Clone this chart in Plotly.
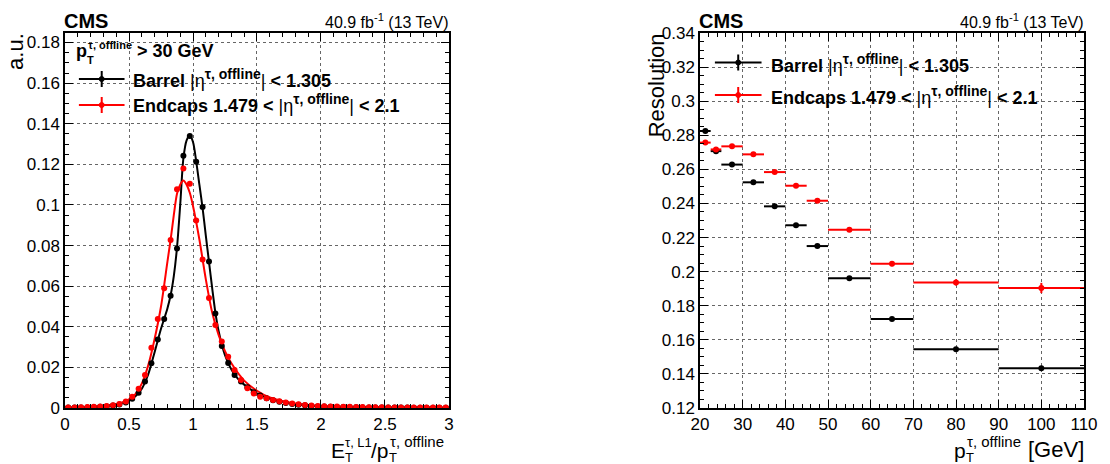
import numpy as np
import plotly.graph_objects as go

# ---------------- Left panel: response E_T^L1 / p_T^offline ----------------
resp_x = list(np.round(np.arange(0.025, 3.0, 0.05), 3))

barrel_resp = [0.0002, 0.0002, 0.0003, 0.0003, 0.0004, 0.0006, 0.0008, 0.0012, 0.0017, 0.0027,
               0.0045, 0.0075, 0.0130, 0.0220, 0.0338, 0.0438, 0.0553, 0.0785, 0.1243, 0.1340,
               0.1213, 0.0990, 0.0722, 0.0466, 0.0305, 0.0222, 0.0163, 0.0130, 0.0102, 0.0078,
               0.0062, 0.0048, 0.0038, 0.0031, 0.0025, 0.0020, 0.0016, 0.0013, 0.0010, 0.0008,
               0.0007, 0.0006, 0.0005, 0.0005, 0.0004, 0.0004, 0.0003, 0.0003, 0.0003, 0.0002,
               0.0002, 0.0002, 0.0002, 0.0002, 0.0001, 0.0001, 0.0001, 0.0001, 0.0001, 0.0001]

endcap_resp = [0.0003, 0.0003, 0.0004, 0.0005, 0.0006, 0.0008, 0.0010, 0.0014, 0.0020, 0.0032,
               0.0055, 0.0095, 0.0163, 0.0297, 0.0438, 0.0590, 0.0828, 0.1077, 0.1180, 0.1105,
               0.0923, 0.0731, 0.0542, 0.0409, 0.0327, 0.0253, 0.0187, 0.0138, 0.0097, 0.0072,
               0.0056, 0.0048, 0.0040, 0.0033, 0.0027, 0.0022, 0.0018, 0.0015, 0.0012, 0.0010,
               0.0009, 0.0008, 0.0007, 0.0006, 0.0006, 0.0005, 0.0005, 0.0004, 0.0004, 0.0004,
               0.0003, 0.0003, 0.0003, 0.0003, 0.0002, 0.0002, 0.0002, 0.0002, 0.0002, 0.0002]

barrel_fit_x = [0, 0.2, 0.4, 0.5, 0.55, 0.6, 0.65, 0.7, 0.75, 0.8, 0.825, 0.85, 0.875, 0.9,
                0.925, 0.95, 0.975, 1.0, 1.025, 1.05, 1.075, 1.1, 1.125, 1.15, 1.175, 1.2,
                1.25, 1.3, 1.35, 1.4, 1.5, 1.6, 1.8, 2.0, 2.5, 3.0]
barrel_fit_y = [0.0002, 0.0004, 0.0018, 0.0036, 0.0058, 0.0095, 0.0165, 0.0275, 0.0390, 0.0490,
                0.0555, 0.0650, 0.0790, 0.1000, 0.1230, 0.1318, 0.1342, 0.1310, 0.1215, 0.1100,
                0.0985, 0.0850, 0.0720, 0.0590, 0.0470, 0.0380, 0.0260, 0.0190, 0.0145, 0.0115,
                0.0072, 0.0046, 0.0020, 0.0009, 0.0003, 0.0001]

endcap_fit_x = [0, 0.2, 0.4, 0.5, 0.55, 0.6, 0.65, 0.7, 0.75, 0.8, 0.825, 0.85, 0.875, 0.9,
                0.925, 0.95, 0.975, 1.0, 1.05, 1.1, 1.15, 1.2, 1.25, 1.3, 1.4, 1.5, 1.6, 1.8,
                2.0, 2.5, 3.0]
endcap_fit_y = [0.0003, 0.0005, 0.0017, 0.0042, 0.0068, 0.0120, 0.0210, 0.0340, 0.0500, 0.0720,
                0.0828, 0.0950, 0.1055, 0.1100, 0.1120, 0.1100, 0.1060, 0.0995, 0.0830, 0.0635,
                0.0470, 0.0360, 0.0280, 0.0220, 0.0135, 0.0085, 0.0052, 0.0022, 0.0010, 0.0003,
                0.0002]

# ---------------- Right panel: resolution vs p_T ----------------
pt_lo = [20, 22.5, 25, 30, 35, 40, 45, 50, 60, 70, 90]
pt_hi = [22.5, 25, 30, 35, 40, 45, 50, 60, 70, 90, 110]
barrel_res = [0.2825, 0.2707, 0.2628, 0.2524, 0.2383, 0.2272, 0.2150, 0.1961, 0.1722, 0.1544, 0.1433]
endcap_res = [0.2757, 0.2717, 0.2735, 0.2688, 0.2584, 0.2504, 0.2416, 0.2246, 0.2047, 0.1937, 0.1904]
barrel_res_err = [0.0005, 0.0005, 0.0005, 0.0005, 0.0005, 0.0005, 0.0006, 0.0006, 0.0007, 0.0008, 0.0010]
endcap_res_err = [0.0008, 0.0008, 0.0008, 0.0008, 0.0008, 0.0009, 0.0009, 0.0010, 0.0015, 0.0018, 0.0030]

pt_mid = [(a + b) / 2 for a, b in zip(pt_lo, pt_hi)]
pt_half = [(b - a) / 2 for a, b in zip(pt_lo, pt_hi)]

BLACK = "#000000"
RED = "#ff0000"
FONT = "Liberation Sans, Arial, Helvetica, sans-serif"

fig = go.Figure()

# left: fits then points
fig.add_trace(go.Scatter(x=barrel_fit_x, y=barrel_fit_y, mode="lines",
                         line=dict(color=BLACK, width=2, shape="spline", smoothing=0.8),
                         xaxis="x", yaxis="y", showlegend=False, hoverinfo="skip"))
fig.add_trace(go.Scatter(x=endcap_fit_x, y=endcap_fit_y, mode="lines",
                         line=dict(color=RED, width=2, shape="spline", smoothing=0.8),
                         xaxis="x", yaxis="y", showlegend=False, hoverinfo="skip"))
fig.add_trace(go.Scatter(x=resp_x, y=barrel_resp, mode="markers",
                         marker=dict(color=BLACK, size=6),
                         xaxis="x", yaxis="y", showlegend=False))
fig.add_trace(go.Scatter(x=resp_x, y=endcap_resp, mode="markers",
                         marker=dict(color=RED, size=6),
                         xaxis="x", yaxis="y", showlegend=False))

# right: resolution points with bin-width bars
fig.add_trace(go.Scatter(x=pt_mid, y=barrel_res, mode="markers",
                         marker=dict(color=BLACK, size=6),
                         error_x=dict(type="data", array=pt_half, color=BLACK, thickness=2, width=0),
                         error_y=dict(type="data", array=barrel_res_err, color=BLACK, thickness=2, width=0),
                         xaxis="x2", yaxis="y2", showlegend=False))
fig.add_trace(go.Scatter(x=pt_mid, y=endcap_res, mode="markers",
                         marker=dict(color=RED, size=6),
                         error_x=dict(type="data", array=pt_half, color=RED, thickness=2, width=0),
                         error_y=dict(type="data", array=endcap_res_err, color=RED, thickness=2, width=0),
                         xaxis="x2", yaxis="y2", showlegend=False))

W, H = 1110, 464
ML, MR, MT, MB = 65, 18, 33, 56
PW, PH = W - ML - MR, H - MT - MB


def px(xp):
    return (xp - ML) / PW


def py(yp):
    return (H - MB - yp) / PH


axis_common = dict(
    showline=True, linecolor=BLACK, linewidth=1.5, mirror="allticks",
    ticks="inside", ticklen=8, tickwidth=1, tickcolor=BLACK,
    showgrid=True, gridcolor="#666666", griddash="dot", gridwidth=1,
    zeroline=False,
    tickfont=dict(family=FONT, size=17, color=BLACK),
)

fig.update_layout(
    width=W, height=H,
    margin=dict(l=ML, r=MR, t=MT, b=MB),
    paper_bgcolor="white", plot_bgcolor="white",
    showlegend=False,
    xaxis=dict(domain=[0, px(452)], range=[0, 3], tick0=0, dtick=0.5,
               minor=dict(ticks="inside", ticklen=4, dtick=0.1, tickcolor=BLACK, showgrid=False),
               anchor="y", **axis_common),
    yaxis=dict(domain=[0, 1], range=[0, 0.1847], tick0=0, dtick=0.02,
               minor=dict(ticks="inside", ticklen=4, dtick=0.005, tickcolor=BLACK, showgrid=False),
               anchor="x", **axis_common),
    xaxis2=dict(domain=[px(705), 1], range=[20, 110], tick0=20, dtick=10,
                minor=dict(ticks="inside", ticklen=4, dtick=2, tickcolor=BLACK, showgrid=False),
                anchor="y2", **axis_common),
    yaxis2=dict(domain=[0, 1], range=[0.12, 0.34], tick0=0.12, dtick=0.02,
                minor=dict(ticks="inside", ticklen=4, dtick=0.005, tickcolor=BLACK, showgrid=False),
                anchor="x2", **axis_common),
)

shapes = []
# white legend boxes covering the grid
shapes.append(dict(type="rect", xref="paper", yref="paper", layer="between",
                   x0=px(66), x1=px(400), y0=py(118), y1=py(35),
                   fillcolor="white", line=dict(width=0)))
shapes.append(dict(type="rect", xref="paper", yref="paper", layer="between",
                   x0=px(706), x1=px(1050), y0=py(110), y1=py(43),
                   fillcolor="white", line=dict(width=0)))


def legend_symbol(x0, x1, yc, color):
    xc = (x0 + x1) / 2
    shapes.append(dict(type="line", xref="paper", yref="paper",
                       x0=px(x0), x1=px(x1), y0=py(yc), y1=py(yc),
                       line=dict(color=color, width=2)))
    shapes.append(dict(type="line", xref="paper", yref="paper",
                       x0=px(xc), x1=px(xc), y0=py(yc - 8), y1=py(yc + 8),
                       line=dict(color=color, width=2)))
    shapes.append(dict(type="circle", xref="paper", yref="paper",
                       x0=px(xc - 2.5), x1=px(xc + 2.5), y0=py(yc + 2.5), y1=py(yc - 2.5),
                       fillcolor=color, line=dict(color=color, width=1)))


legend_symbol(79, 125, 79, BLACK)
legend_symbol(79, 125, 105, RED)
legend_symbol(720, 767, 62.5, BLACK)
legend_symbol(720, 767, 95, RED)

annotations = []


def text(x, y, s, size, xanchor="left", yanchor="middle", angle=0):
    annotations.append(dict(xref="paper", yref="paper", x=px(x), y=py(y), text=s,
                            showarrow=False, xanchor=xanchor, yanchor=yanchor,
                            textangle=angle, borderpad=0, borderwidth=0,
                            font=dict(family=FONT, size=size, color=BLACK)))


def sup(s, size, bold=False):
    inner = f"<b>{s}</b>" if bold else s
    return f"<sup><span style='font-size:{size}px'>{inner}</span></sup>"


lumi = "40.9 fb<sup>-1</sup> (13 TeV)"
barrel_txt = "<b>Barrel</b> |η" + sup("τ, offline", 14, True) + "| <b>&lt; 1.305</b>"
endcap_txt = "<b>Endcaps 1.479 &lt;</b> |η" + sup("τ, offline", 14, True) + "| <b>&lt; 2.1</b>"

# ---- left panel texts
text(64, 21, "<b>CMS</b>", 20)
text(452, 21, lumi, 16, xanchor="right")
# header p_T^{tau, offline} > 30 GeV with stacked scripts
text(87, 60.8, "<b>p</b>", 18, xanchor="right", yanchor="bottom")
text(88, 51.3, "<b>τ, offline</b>", 11, yanchor="bottom")
text(87, 53.6, "<b>T</b>", 11, yanchor="top")
text(138, 60.8, "<b>&gt; 30 GeV</b>", 18, yanchor="bottom")
text(134, 78.5, barrel_txt, 18)
text(134, 103.5, endcap_txt, 18)
text(15, 33, "a.u.", 22, xanchor="center", yanchor="top", angle=-90)
# x title E_T^{tau, L1}/p_T^{tau, offline} with stacked scripts
text(347, 461.5, "E", 21, xanchor="right", yanchor="bottom")
text(347.5, 449.5, "τ, L1", 13, yanchor="bottom")
text(347, 449.5, "T", 13, yanchor="top")
text(392, 461.5, "/p", 21, xanchor="right", yanchor="bottom")
text(393, 449.5, "τ, offline", 15, yanchor="bottom")
text(392, 449.5, "T", 13, yanchor="top")

# ---- right panel texts
text(704, 21, "<b>CMS</b>", 20)
text(1092, 21, lumi, 16, xanchor="right")
text(777, 63.3, barrel_txt, 18)
text(777, 95, endcap_txt, 18)
text(661, 33, "Resolution", 22, xanchor="center", yanchor="top", angle=-90)
# x title p_T^{tau, offline} [GeV]
text(973, 461.5, "p", 21, xanchor="right", yanchor="bottom")
text(974, 449.5, "τ, offline", 15, yanchor="bottom")
text(973, 449.5, "T", 13, yanchor="top")
text(1092, 461.5, "[GeV]", 22, xanchor="right", yanchor="bottom")

fig.update_layout(shapes=shapes, annotations=annotations)

fig.write_html("out.html", config={"displayModeBar": False},
               post_script="document.body.style.margin='0';document.body.style.padding='0';")
